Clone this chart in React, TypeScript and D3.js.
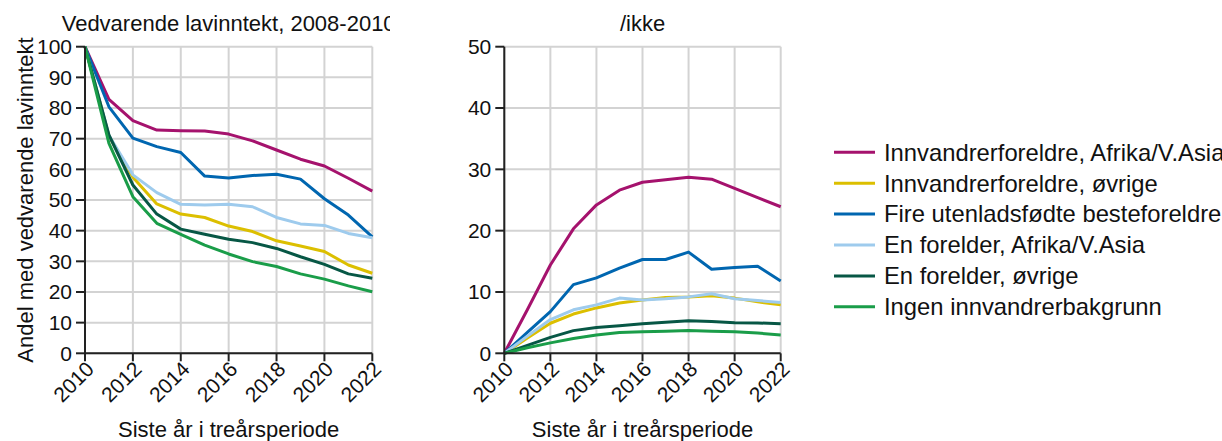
import React from "react";
import * as d3 from "d3";

const years = [2010, 2011, 2012, 2013, 2014, 2015, 2016, 2017, 2018, 2019, 2020, 2021, 2022];
const xTicks = [2010, 2012, 2014, 2016, 2018, 2020, 2022];

const seriesNames = [
  "Innvandrerforeldre, Afrika/V.Asia",
  "Innvandrerforeldre, øvrige",
  "Fire utenladsfødte besteforeldre",
  "En forelder, Afrika/V.Asia",
  "En forelder, øvrige",
  "Ingen innvandrerbakgrunn",
];
const colors = ["#a5126d", "#dcbf00", "#0066b0", "#9ecbed", "#075745", "#1a9d49"];

// Left panel: Vedvarende lavinntekt, 2008-2010
const leftMagenta = [100, 82.8, 75.9, 72.8, 72.6, 72.5, 71.5, 69.3, 66.3, 63.3, 61.1, 57.1, 52.9];
const leftYellow = [100, 70.8, 57.4, 48.7, 45.4, 44.3, 41.5, 39.7, 36.7, 35.0, 33.2, 28.8, 26.1];
const leftBlue = [100, 80.4, 70.2, 67.4, 65.5, 57.8, 57.2, 58.0, 58.4, 56.8, 50.4, 45.1, 38.0];
const leftLightBlue = [100, 71.0, 58.2, 52.4, 48.6, 48.4, 48.6, 47.8, 44.3, 42.2, 41.7, 39.1, 37.7];
const leftDarkGreen = [100, 71.2, 54.9, 45.4, 40.5, 38.8, 37.2, 36.1, 34.2, 31.5, 29.0, 25.9, 24.5];
const leftGreen = [100, 68.5, 51.1, 42.4, 38.8, 35.3, 32.4, 29.9, 28.3, 25.9, 24.2, 22.0, 20.1];

// Right panel: /ikke
const rightMagenta = [0, 7.1, 14.4, 20.3, 24.2, 26.6, 27.9, 28.3, 28.7, 28.4, 26.9, 25.4, 23.9];
const rightYellow = [0, 2.5, 4.9, 6.4, 7.4, 8.2, 8.7, 9.1, 9.2, 9.4, 9.0, 8.4, 7.9];
const rightBlue = [0, 3.4, 6.8, 11.2, 12.3, 13.9, 15.3, 15.3, 16.5, 13.7, 14.0, 14.2, 11.8];
const rightLightBlue = [0, 2.8, 5.5, 7.1, 7.9, 9.0, 8.7, 8.9, 9.2, 9.7, 8.9, 8.6, 8.3];
const rightDarkGreen = [0, 1.3, 2.6, 3.7, 4.2, 4.5, 4.8, 5.05, 5.3, 5.2, 5.0, 4.95, 4.8];
const rightGreen = [0, 0.9, 1.7, 2.4, 3.0, 3.4, 3.5, 3.6, 3.7, 3.6, 3.5, 3.3, 3.0];

const leftSeries = [leftMagenta, leftYellow, leftBlue, leftLightBlue, leftDarkGreen, leftGreen];
const rightSeries = [rightMagenta, rightYellow, rightBlue, rightLightBlue, rightDarkGreen, rightGreen];

const leftYTicks = [0, 10, 20, 30, 40, 50, 60, 70, 80, 90, 100];
const rightYTicks = [0, 10, 20, 30, 40, 50];

const FONT = "'Liberation Sans', Arial, sans-serif";
const TICK_FS = 21;
const TITLE_FS = 22;
const LEGEND_FS = 23.8;

type PanelProps = {
  x0: number;
  x1: number;
  yMax: number;
  yTicks: number[];
  series: number[][];
  title: string;
  clipRight?: number;
  id: string;
  yLabel?: string;
};

function Panel({ x0, x1, yMax, yTicks, series, title, clipRight, id, yLabel }: PanelProps) {
  const top = 46.7;
  const bottom = 353.3;
  const x = d3.scaleLinear().domain([2010, 2022]).range([x0, x1]);
  const y = d3.scaleLinear().domain([0, yMax]).range([bottom, top]);
  const line = d3
    .line<number>()
    .x((_, i) => x(years[i]))
    .y((d) => y(d));
  const cx = (x0 + x1) / 2;
  return (
    <g>
      {clipRight !== undefined && (
        <defs>
          <clipPath id={id}>
            <rect x={0} y={0} width={clipRight} height={441} />
          </clipPath>
        </defs>
      )}
      <text
        x={cx}
        y={31}
        textAnchor="middle"
        fontSize={TITLE_FS}
        fill="#111"
        clipPath={clipRight !== undefined ? `url(#${id})` : undefined}
      >
        {title}
      </text>
      {yTicks.map((t) => (
        <line key={"gy" + t} x1={x0} x2={x1} y1={y(t)} y2={y(t)} stroke="#d3d3d3" strokeWidth={2} />
      ))}
      {xTicks.map((t) => (
        <line key={"gx" + t} x1={x(t)} x2={x(t)} y1={top} y2={bottom} stroke="#d3d3d3" strokeWidth={2} />
      ))}
      {series.map((s, i) => (
        <path key={"s" + i} d={line(s) || ""} fill="none" stroke={colors[i]} strokeWidth={3} strokeLinejoin="round" />
      ))}
      <line x1={x0} x2={x0} y1={top} y2={bottom} stroke="#222" strokeWidth={2} />
      <line x1={x0} x2={x1} y1={bottom} y2={bottom} stroke="#222" strokeWidth={2} />
      {yTicks.map((t) => (
        <g key={"ty" + t}>
          <line x1={x0 - 9} x2={x0} y1={y(t)} y2={y(t)} stroke="#222" strokeWidth={2} />
          <text x={x0 - 13} y={y(t)} dy="0.35em" textAnchor="end" fontSize={TICK_FS} fill="#111">
            {t}
          </text>
        </g>
      ))}
      {xTicks.map((t) => (
        <g key={"tx" + t}>
          <line x1={x(t)} x2={x(t)} y1={bottom} y2={bottom + 8} stroke="#222" strokeWidth={2} />
          <text
            transform={`translate(${x(t) + 5},${bottom + 12}) rotate(-45)`}
            dy="0.35em"
            textAnchor="end"
            fontSize={TICK_FS}
            fill="#111"
          >
            {t}
          </text>
        </g>
      ))}
      <text x={cx} y={437} textAnchor="middle" fontSize={TITLE_FS} fill="#111">
        Siste år i treårsperiode
      </text>
      {yLabel && (
        <text
          transform={`translate(33,${(top + bottom) / 2}) rotate(-90)`}
          textAnchor="middle"
          fontSize={TITLE_FS}
          fill="#111"
        >
          {yLabel}
        </text>
      )}
    </g>
  );
}

export default function App() {
  const legendY0 = 152.3;
  const legendStep = 30.9;
  return (
    <svg width={1222} height={441} style={{ position: "absolute", left: 0, top: 0, fontFamily: FONT }}>
      <rect width={1222} height={441} fill="#fff" />
      <Panel
        x0={85}
        x1={372.3}
        yMax={100}
        yTicks={leftYTicks}
        series={leftSeries}
        title="Vedvarende lavinntekt, 2008-2010"
        clipRight={390}
        id="clipLeft"
        yLabel="Andel med vedvarende lavinntekt"
      />
      <Panel
        x0={504.3}
        x1={780.7}
        yMax={50}
        yTicks={rightYTicks}
        series={rightSeries}
        title="/ikke"
        id="clipRight"
      />
      {seriesNames.map((n, i) => (
        <g key={n}>
          <line
            x1={834}
            x2={875}
            y1={legendY0 + i * legendStep}
            y2={legendY0 + i * legendStep}
            stroke={colors[i]}
            strokeWidth={3}
          />
          <text x={884} y={legendY0 + i * legendStep} dy="0.35em" fontSize={LEGEND_FS} fill="#111">
            {n}
          </text>
        </g>
      ))}
    </svg>
  );
}
